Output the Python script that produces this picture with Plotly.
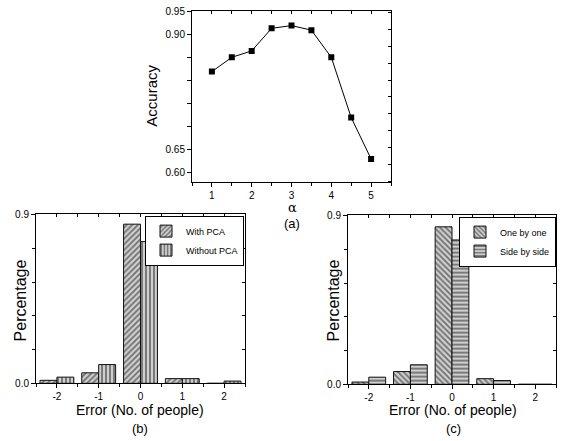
import plotly.graph_objects as go

# ---- data ----
alpha = [1, 1.5, 2, 2.5, 3, 3.5, 4, 4.5, 5]
accuracy = [0.820, 0.851, 0.865, 0.914, 0.920, 0.910, 0.851, 0.720, 0.630]

errors = [-2, -1, 0, 1, 2]
error_labels = ["-2", "-1", "0", "1", "2"]
with_pca = [0.016, 0.056, 0.849, 0.025, 0.0]
without_pca = [0.033, 0.100, 0.756, 0.025, 0.012]
one_by_one = [0.012, 0.068, 0.840, 0.030, 0.0]
side_by_side = [0.038, 0.104, 0.770, 0.020, 0.0]

acc_ticks = [0.60, 0.65, 0.70, 0.75, 0.80, 0.85, 0.90, 0.95]
acc_ticktext = ["0.60", "0.65", "", "", "", "", "0.90", "0.95"]

FONT = "Liberation Sans, Arial, sans-serif"
fig = go.Figure()

fig.add_trace(go.Scatter(x=alpha, y=accuracy, mode="lines+markers",
                         line=dict(color="black", width=1),
                         marker=dict(symbol="square", size=6, color="black"),
                         xaxis="x", yaxis="y", showlegend=False))

def bar(x, y, name, shape, xa, ya, legend):
    return go.Bar(x=x, y=y, name=name, xaxis=xa, yaxis=ya, legend=legend,
                  marker=dict(color="white",
                              line=dict(color="#111", width=1),
                              pattern=dict(shape=shape, fgcolor="#111", bgcolor="#cfcfcf",
                                           size=4, solidity=0.45)))

fig.add_trace(bar(errors, with_pca, "With PCA", "/", "x2", "y2", "legend"))
fig.add_trace(bar(errors, without_pca, "Without PCA", "|", "x2", "y2", "legend"))
fig.add_trace(bar(errors, one_by_one, "One by one", "\\", "x3", "y3", "legend2"))
fig.add_trace(bar(errors, side_by_side, "Side by side", "-", "x3", "y3", "legend2"))

# invisible helper traces so the top/right tick axes get drawn
for xa, ya in [("x4", "y4"), ("x5", "y5"), ("x6", "y6")]:
    fig.add_trace(go.Scatter(x=[None], y=[None], xaxis=xa, yaxis=ya,
                             mode="markers", showlegend=False, hoverinfo="skip"))

W, H = 564, 441
def dx(a, b): return [a / W, b / W]
def dy(top, bot): return [1 - bot / H, 1 - top / H]

tickfont = dict(family=FONT, size=10, color="black")
common = dict(showgrid=False, zeroline=False, showline=True, linecolor="black",
              linewidth=1, mirror=True, tickfont=tickfont, ticks="outside", ticklen=4,
              tickcolor="black")
xminor = dict(dtick=0.5, tick0=0.5, ticks="outside", ticklen=3, tickcolor="black")
yminor = dict(dtick=0.18, tick0=0, ticks="outside", ticklen=3, tickcolor="black")

xr_a = [0.5, 5.5]
yr_a = [0.579, 0.952]
xr_b = [-2.5, 2.5]
yr_b = [0, 0.905]

layout = dict(
    width=W, height=H, margin=dict(l=0, r=0, t=0, b=0),
    paper_bgcolor="white", plot_bgcolor="white",
    barmode="group", bargap=0.19, bargroupgap=0,
    font=dict(family=FONT, color="black"),
    xaxis=dict(domain=dx(192, 391), anchor="y", range=xr_a, tickvals=[1, 2, 3, 4, 5],
               minor=xminor, **common),
    yaxis=dict(domain=dy(6, 182), anchor="x", range=yr_a,
               tickvals=acc_ticks, ticktext=acc_ticktext, **common),
    xaxis2=dict(domain=dx(36, 245), anchor="y2", range=xr_b, tickvals=errors,
                ticktext=error_labels, minor=xminor, **common),
    yaxis2=dict(domain=dy(214, 388), anchor="x2", range=yr_b, tickvals=[0, 0.9],
                ticktext=["0.0", "0.9"], minor=yminor, **common),
    xaxis3=dict(domain=dx(348, 556), anchor="y3", range=xr_b, tickvals=errors,
                ticktext=error_labels, minor=xminor, **common),
    yaxis3=dict(domain=dy(215, 389), anchor="x3", range=yr_b, tickvals=[0, 0.9],
                ticktext=["0.0", "0.9"], minor=yminor, **common),
)

mirror = dict(showgrid=False, zeroline=False, showline=False,
              ticks="inside", ticklen=3, tickcolor="black",
              showticklabels=False, autorange=False)
layout["xaxis4"] = dict(overlaying="x", side="top", anchor="y", range=xr_a, dtick=0.5, tick0=0.5, **mirror)
layout["yaxis4"] = dict(overlaying="y", side="right", anchor="x", range=yr_a, dtick=0.0367, tick0=0.6182, **mirror)
layout["xaxis5"] = dict(overlaying="x2", side="top", anchor="y2", range=xr_b, dtick=0.5, tick0=0.5, **mirror)
layout["yaxis5"] = dict(overlaying="y2", side="right", anchor="x2", range=yr_b, dtick=0.18, tick0=0, **mirror)
layout["xaxis6"] = dict(overlaying="x3", side="top", anchor="y3", range=xr_b, dtick=0.5, tick0=0.5, **mirror)
layout["yaxis6"] = dict(overlaying="y3", side="right", anchor="x3", range=yr_b, dtick=0.18, tick0=0, **mirror)

legstyle = dict(bgcolor="white", bordercolor="black", borderwidth=1,
                font=dict(family=FONT, size=9, color="black"),
                xanchor="right", yanchor="top", tracegroupgap=0, itemwidth=30)
layout["legend"] = dict(x=244 / W, y=1 - 216 / H, **legstyle)
layout["legend2"] = dict(x=556 / W, y=1 - 217 / H, **legstyle)

fig.update_layout(**layout)

def ann(text, x, y, size=13, angle=0, family=FONT, pad=1):
    fig.add_annotation(text=text, x=x / W, y=1 - y / H, xref="paper", yref="paper",
                       xanchor="center", yanchor="middle", borderpad=pad,
                       showarrow=False, textangle=angle,
                       font=dict(family=family, size=size, color="black"))

ann("Accuracy", 152, 93, size=15, angle=-90)
ann("α", 292, 208, size=13, family="DejaVu Serif, serif", pad=0)
ann("(a)", 292, 224, size=13, pad=0)
ann("Percentage", 20, 303, size=16, angle=-90)
ann("Error (No. of people)", 140, 415, size=14)
ann("(b)", 140, 434, size=13)
ann("Percentage", 333, 303, size=16, angle=-90)
ann("Error (No. of people)", 453, 415, size=14)
ann("(c)", 453, 434, size=13)

fig.write_html("out.html")
